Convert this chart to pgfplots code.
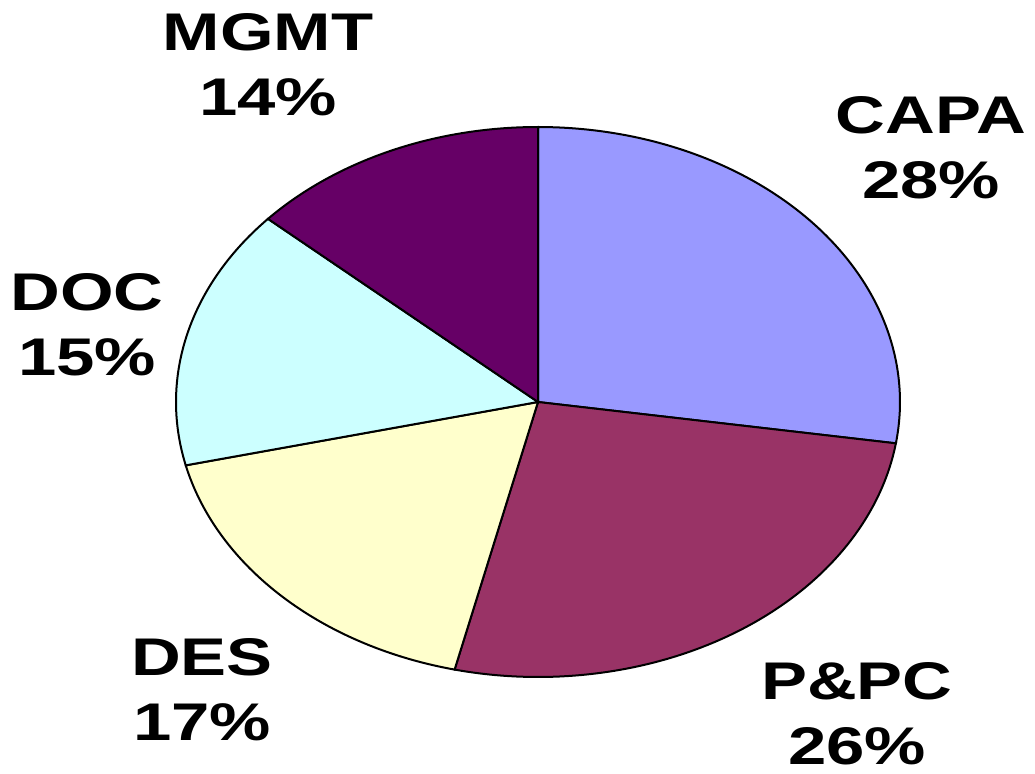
\documentclass[border=0pt]{standalone}
\usepackage{pgfplots}
\pgfplotsset{compat=1.18}
\usepackage{fontspec}
\setmainfont{Liberation Sans}
\newfontfamily\lblfont[FakeStretch=1.3]{Liberation Sans}
\definecolor{capa}{HTML}{9999FF}
\definecolor{ppc}{HTML}{993366}
\definecolor{des}{HTML}{FFFFCC}
\definecolor{doc}{HTML}{CCFFFF}
\definecolor{mgmt}{HTML}{660066}
% slice: #1 cumulative share before, #2 share (percent), #3 colour
\newcommand\slice[3]{%
  \addplot[draw=black, line width=1pt, fill=#3, domain={90-3.6*(#1+#2)}:{90-3.6*(#1)},
    samples=150, variable=\t]
    ({538+362*cos(t)},{371+275*sin(t)}) -- (538,371) -- cycle;}
\begin{document}
\begin{tikzpicture}
\begin{axis}[width=517.5pt,height=386.5pt,scale only axis,
  xmin=0,xmax=1035,ymin=0,ymax=773,hide axis,clip=false]
\path (0,0) (1035,773);
\slice{0}{27.4}{capa}
\slice{27.4}{26.3}{ppc}
\slice{53.7}{17.6}{des}
\slice{71.3}{15.3}{doc}
\slice{86.6}{13.4}{mgmt}
\begin{scope}[every node/.style={align=center,inner sep=0pt,font=\lblfont\fontsize{26.5}{32.5}\selectfont\bfseries}]
\node at (268,708) {MGMT\\14\%};
\node at (931,625) {CAPA\\28\%};
\node at (87,448) {DOC\\15\%};
\node at (202,83) {DES\\17\%};
\node at (857,59) {P\&PC\\26\%};
\end{scope}
\end{axis}
\end{tikzpicture}
\end{document}
